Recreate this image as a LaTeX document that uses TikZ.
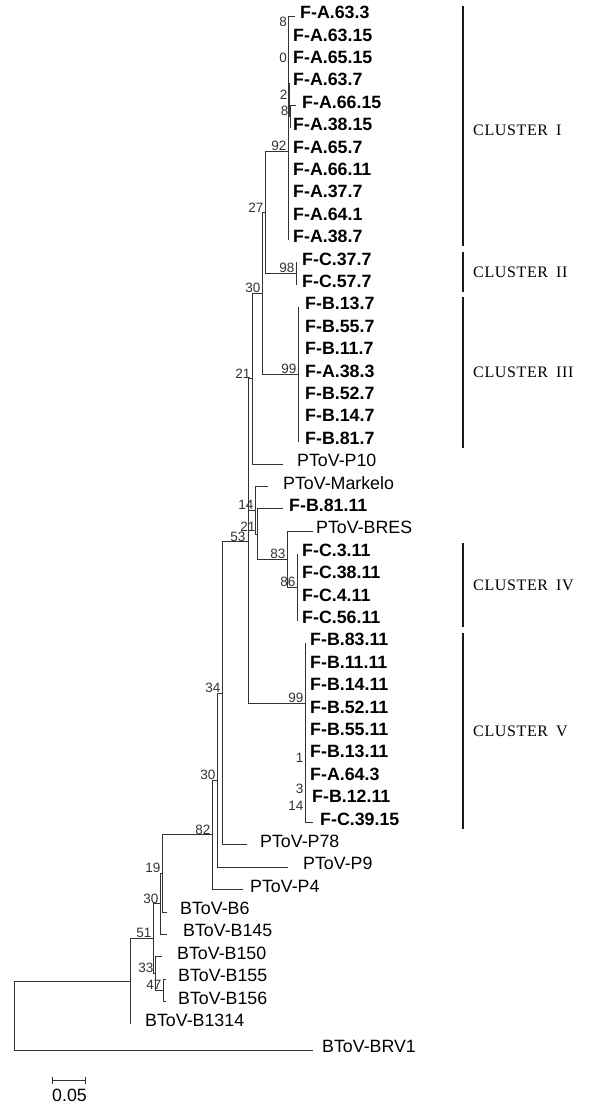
\documentclass[tikz,border=0pt]{standalone}
\usepackage{fontspec}
\newfontfamily\treefont{Liberation Sans}
\newfontfamily\clusfont[LetterSpace=4]{Liberation Serif}
\usetikzlibrary{arrows.meta, positioning}

\begin{document}
\begin{tikzpicture}[
    x=1pt, y=-1pt,
    branch/.style={draw=black!80, line width=0.9pt},
    leaf/.style={anchor=west, inner sep=0pt, yshift=3.5pt, font=\treefont\fontsize{17.8}{20}\selectfont},
    fleaf/.style={leaf, font=\treefont\bfseries\fontsize{17.8}{20}\selectfont},
    boot/.style={anchor=south east, inner sep=0.5pt, xshift=-1pt, text=black!80, font=\treefont\fontsize{13.5}{14}\selectfont},
    clbar/.style={draw=black!90, line width=1.1pt},
    clus/.style={anchor=west, inner sep=0pt, font=\clusfont\fontsize{16}{18}\selectfont}
]
    \useasboundingbox (0,0) rectangle (601,1106);

    % Inner nodes
    \coordinate (root) at (14,1015.7);
    \coordinate (r2)   at (130,981.4);
    \coordinate (n51)  at (153,938.75);
    \coordinate (n30b) at (160,903.9);
    \coordinate (n19)  at (162,873.4);
    \coordinate (n33)  at (155,973.6);
    \coordinate (n47)  at (163,990.4);
    \coordinate (n82)  at (212,834.85);
    \coordinate (n30a) at (217,780.1);
    \coordinate (n34)  at (222,692.95);
    \coordinate (n53)  at (248,541.1);
    \coordinate (n21a) at (252,378.8);
    \coordinate (n30)  at (262,293.55);
    \coordinate (n27)  at (265,212.7);
    \coordinate (n92)  at (288,151.8);
    \coordinate (n0)   at (288.5,63.6);
    \coordinate (n8a)  at (288.5,27.2);
    \coordinate (n2)   at (289,100);
    \coordinate (n8b)  at (290,116.8);
    \coordinate (n98)  at (296,273.6);
    \coordinate (n99c) at (298,374.4);
    \coordinate (n14)  at (255,510.2);
    \coordinate (n21b) at (257,534);
    \coordinate (n83)  at (287,559.2);
    \coordinate (n86)  at (297,587.2);
    \coordinate (n99v) at (305,703.4);
    \coordinate (n1)   at (305,763.6);
    \coordinate (n3)   at (305,794.4);
    \coordinate (n14v) at (305,811.2);

    % Branch tips
    \coordinate (tA633)  at (295,16);
    \coordinate (tA6315) at (288.5,38.4);
    \coordinate (tA637)  at (289,83.2);
    \coordinate (tA6615) at (296,105.6);
    \coordinate (tA3815) at (290,128);
    \coordinate (tA387)  at (288,240);
    \coordinate (tC377)  at (296,262.4);
    \coordinate (tC577)  at (296,284.8);
    \coordinate (tB137)  at (298,307.2);
    \coordinate (tB817)  at (298,441.6);
    \coordinate (tP10)   at (283,464);
    \coordinate (tMark)  at (268,486.4);
    \coordinate (tB8111) at (283,508.8);
    \coordinate (tBRES)  at (313,531.2);
    \coordinate (tC311)  at (297,553.6);
    \coordinate (tC5611) at (297,620.8);
    \coordinate (tB8311) at (305,643.2);
    \coordinate (tB5511) at (305,732.8);
    \coordinate (tA643)  at (305,777.6);
    \coordinate (tB1211) at (305,800);
    \coordinate (tC3915) at (313,822.4);
    \coordinate (tP78)   at (247,844.8);
    \coordinate (tP9)    at (288,867.2);
    \coordinate (tP4)    at (243,889.6);
    \coordinate (tB6)    at (167,912);
    \coordinate (tB145)  at (167,934.4);
    \coordinate (tB150)  at (162,956.8);
    \coordinate (tB155)  at (166,979.2);
    \coordinate (tB156)  at (166,1001.6);
    \coordinate (tB1314) at (130,1024);
    \coordinate (tBRV1)  at (313,1050);

    % Branches
    \draw[branch] (root) |- (r2) (root) |- (tBRV1);
    \draw[branch] (r2) |- (n51) (r2) |- (tB1314);
    \draw[branch] (n51) |- (n30b) (n51) |- (n33);
    \draw[branch] (n33) |- (tB150) (n33) |- (n47);
    \draw[branch] (n47) |- (tB155) (n47) |- (tB156);
    \draw[branch] (n30b) |- (n19) (n30b) |- (tB145);
    \draw[branch] (n19) |- (n82) (n19) |- (tB6);
    \draw[branch] (n82) |- (n30a) (n82) |- (tP4);
    \draw[branch] (n30a) |- (n34) (n30a) |- (tP9);
    \draw[branch] (n34) |- (n53) (n34) |- (tP78);
    \draw[branch] (n53) |- (n21a) (n53) |- (n14) (n53) |- (n99v);
    \draw[branch] (n21a) |- (n30) (n21a) |- (tP10);
    \draw[branch] (n30) |- (n27) (n30) |- (n99c);
    \draw[branch] (n27) |- (n92) (n27) |- (n98);
    \draw[branch] (n92) |- (n0) (n92) |- (tA387);
    \draw[branch] (n0) |- (n8a) (n0) |- (n2);
    \draw[branch] (n8a) |- (tA633) (n8a) |- (tA6315);
    \draw[branch] (n2) |- (tA637) (n2) |- (n8b);
    \draw[branch] (n8b) |- (tA6615) (n8b) |- (tA3815);
    \draw[branch] (n98) |- (tC377) (n98) |- (tC577);
    \draw[branch] (n99c) |- (tB137) (n99c) |- (tB817);
    \draw[branch] (n14) |- (tMark) (n14) |- (n21b);
    \draw[branch] (n21b) |- (tB8111) (n21b) |- (n83);
    \draw[branch] (n83) |- (tBRES) (n83) |- (n86);
    \draw[branch] (n86) |- (tC311) (n86) |- (tC5611);
    \draw[branch] (n99v) |- (tB8311) (n99v) |- (n1);
    \draw[branch] (n1) |- (tB5511) (n1) |- (n3);
    \draw[branch] (n3) |- (tA643) (n3) |- (n14v);
    \draw[branch] (n14v) |- (tB1211) (n14v) |- (tC3915);

    % Leaves
    \node[fleaf] (FA633)  at (300,16)    {F-A.63.3};
    \node[fleaf] (FA6315) at (293,38.4)  {F-A.63.15};
    \node[fleaf] (FA6515) at (293,60.8)  {F-A.65.15};
    \node[fleaf] (FA637)  at (293,83.2)  {F-A.63.7};
    \node[fleaf] (FA6615) at (302,105.6) {F-A.66.15};
    \node[fleaf] (FA3815) at (293,128)   {F-A.38.15};
    \node[fleaf] (FA657)  at (293,150.4) {F-A.65.7};
    \node[fleaf] (FA6611) at (293,172.8) {F-A.66.11};
    \node[fleaf] (FA377)  at (293,195.2) {F-A.37.7};
    \node[fleaf] (FA641)  at (293,217.6) {F-A.64.1};
    \node[fleaf] (FA387)  at (293,240)   {F-A.38.7};
    \node[fleaf] (FC377)  at (302,262.4) {F-C.37.7};
    \node[fleaf] (FC577)  at (302,284.8) {F-C.57.7};
    \node[fleaf] (FB137)  at (305,307.2) {F-B.13.7};
    \node[fleaf] (FB557)  at (305,329.6) {F-B.55.7};
    \node[fleaf] (FB117)  at (305,352)   {F-B.11.7};
    \node[fleaf] (FA383)  at (305,374.4) {F-A.38.3};
    \node[fleaf] (FB527)  at (305,396.8) {F-B.52.7};
    \node[fleaf] (FB147)  at (305,419.2) {F-B.14.7};
    \node[fleaf] (FB817)  at (305,441.6) {F-B.81.7};
    \node[leaf]  (P10)    at (297,464)   {PToV-P10};
    \node[leaf]  (Mark)   at (283,486.4) {PToV-Markelo};
    \node[fleaf] (FB8111) at (289,508.8) {F-B.81.11};
    \node[leaf]  (BRES)   at (316,531.2) {PToV-BRES};
    \node[fleaf] (FC311)  at (302,553.6) {F-C.3.11};
    \node[fleaf] (FC3811) at (302,576)   {F-C.38.11};
    \node[fleaf] (FC411)  at (302,598.4) {F-C.4.11};
    \node[fleaf] (FC5611) at (302,620.8) {F-C.56.11};
    \node[fleaf] (FB8311) at (310,643.2) {F-B.83.11};
    \node[fleaf] (FB1111) at (310,665.6) {F-B.11.11};
    \node[fleaf] (FB1411) at (310,688)   {F-B.14.11};
    \node[fleaf] (FB5211) at (310,710.4) {F-B.52.11};
    \node[fleaf] (FB5511) at (310,732.8) {F-B.55.11};
    \node[fleaf] (FB1311) at (310,755.2) {F-B.13.11};
    \node[fleaf] (FA643)  at (310,777.6) {F-A.64.3};
    \node[fleaf] (FB1211) at (312,800)   {F-B.12.11};
    \node[fleaf] (FC3915) at (320,822.4) {F-C.39.15};
    \node[leaf]  (P78)    at (260,844.8) {PToV-P78};
    \node[leaf]  (P9)     at (303,867.2) {PToV-P9};
    \node[leaf]  (P4)     at (250,889.6) {PToV-P4};
    \node[leaf]  (B6)     at (180,912)   {BToV-B6};
    \node[leaf]  (B145)   at (183,934.4) {BToV-B145};
    \node[leaf]  (B150)   at (177,956.8) {BToV-B150};
    \node[leaf]  (B155)   at (178,979.2) {BToV-B155};
    \node[leaf]  (B156)   at (178,1001.6) {BToV-B156};
    \node[leaf]  (B1314)  at (145,1024)  {BToV-B1314};
    \node[leaf]  (BRV1)   at (322,1050)  {BToV-BRV1};

    % Bootstrap values
    \node[boot] (l8a)  at (n8a)  {8};
    \node[boot] (l0)   at (n0)   {0};
    \node[boot] (l2)   at (n2)   {2};
    \node[boot] (l8b)  at (n8b)  {8};
    \node[boot] (l92)  at (n92)  {92};
    \node[boot] (l27)  at (n27)  {27};
    \node[boot] (l98)  at (n98)  {98};
    \node[boot] (l30)  at (n30)  {30};
    \node[boot] (l99c) at (n99c) {99};
    \node[boot] (l21a) at (n21a) {21};
    \node[boot] (l14)  at (n14)  {14};
    \node[boot, yshift=1.5pt] (l21b) at (n21b) {21};
    \node[boot, yshift=-1.5pt, xshift=-1pt] (l53) at (n53) {53};
    \node[boot] (l83)  at (n83)  {83};
    \node[boot] (l86)  at (n86)  {86};
    \node[boot] (l34)  at (n34)  {34};
    \node[boot] (l99v) at (n99v) {99};
    \node[boot] (l1)   at (n1)   {1};
    \node[boot] (l3)   at (n3)   {3};
    \node[boot] (l14v) at (n14v) {14};
    \node[boot] (l30a) at (n30a) {30};
    \node[boot] (l82)  at (n82)  {82};
    \node[boot] (l19)  at (n19)  {19};
    \node[boot] (l30b) at (n30b) {30};
    \node[boot] (l51)  at (n51)  {51};
    \node[boot] (l33)  at (n33)  {33};
    \node[boot] (l47)  at (n47)  {47};

    % Clusters
    \draw[clbar] (463,6) -- (463,246);
    \draw[clbar] (463,252) -- (463,292);
    \draw[clbar] (463,297) -- (463,448);
    \draw[clbar] (463,543) -- (463,627);
    \draw[clbar] (463,633) -- (463,829);
    \node[clus] (cl1) at (473,130)   {CLUSTER\hspace{0.5em}I};
    \node[clus] (cl2) at (473,272)   {CLUSTER\hspace{0.5em}II};
    \node[clus] (cl3) at (473,372)   {CLUSTER\hspace{0.5em}III};
    \node[clus] (cl4) at (473,585)   {CLUSTER\hspace{0.5em}IV};
    \node[clus] (cl5) at (473,731)   {CLUSTER\hspace{0.5em}V};

    % Scale bar
    \coordinate (sbl) at (52,1080);
    \coordinate (sbr) at (86,1080);
    \draw[branch, {Bar[width=7pt]}-{Bar[width=7pt]}] (sbl) -- (sbr);
    \node[leaf, anchor=center] (sbt) at (69.5,1098.5) {0.05};

\end{tikzpicture}
\end{document}
